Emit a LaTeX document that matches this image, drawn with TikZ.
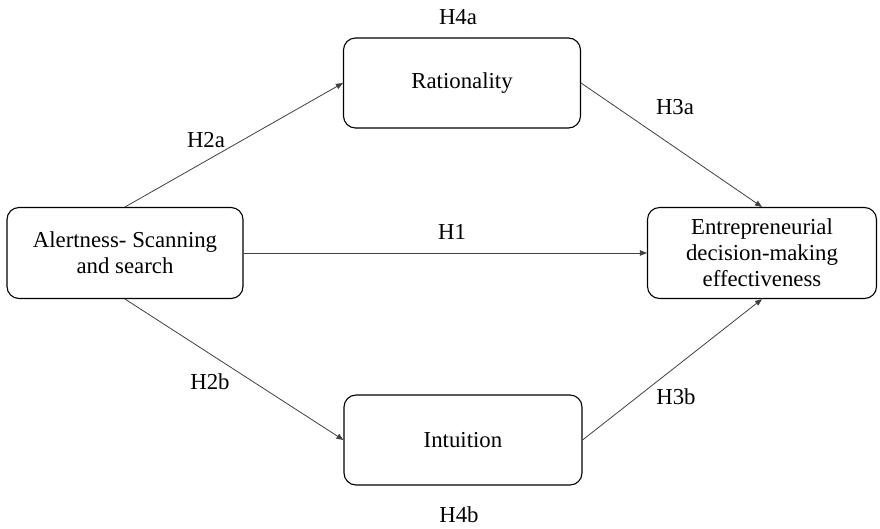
\documentclass[tikz,border=0pt]{standalone}
\usepackage{fontspec}
\setmainfont{Liberation Serif}
\usetikzlibrary{
  arrows.meta,
  positioning
}
\usepackage{xcolor}
\definecolor{edgeGray}{rgb}{0.25,0.25,0.25}
\tikzset{
  construct/.style={
    draw=black,
    line width=1.1pt,
    rounded corners=12pt,
    align=center,
    inner sep=0pt,
    font=\fontsize{22.8}{26}\selectfont
  },
  hyp/.style={
    inner sep=0pt,
    font=\fontsize{22.8}{26}\selectfont
  }
}

\begin{document}
\begin{tikzpicture}[x=1pt,y=-1pt,>={Triangle[length=7pt,width=5.5pt]}]
    \useasboundingbox (0,0) rectangle (880,528);

    \node[construct, minimum width=236pt, minimum height=91pt] (alert) at (125,253)
      {Alertness- Scanning\\and search};
    \node[construct, minimum width=237pt, minimum height=90pt] (ratio) at (462,83)
      {Rationality};
    \node[construct, minimum width=238pt, minimum height=90pt] (intu) at (463,440)
      {Intuition};
    \node[construct, minimum width=229pt, minimum height=91pt] (edme) at (762,253)
      {Entrepreneurial\\decision-making\\effectiveness};

    \node[hyp] (h4a) at (458,17) {H4a};
    \node[hyp] (h2a) at (206,140) {H2a};
    \node[hyp] (h3a) at (675,107) {H3a};
    \node[hyp] (h1) at (452,232) {H1};
    \node[hyp] (h2b) at (210,382) {H2b};
    \node[hyp] (h3b) at (676,397) {H3b};
    \node[hyp] (h4b) at (459,515) {H4b};

    \path[->, color=edgeGray, line width=0.8pt]
    (alert.north) edge (ratio.west)
    (alert.east) edge (edme.west)
    (alert.south) edge (intu.west)
    (ratio.east) edge (edme.north)
    (intu.east) edge (edme.south)
        ;
\end{tikzpicture}
\end{document}
